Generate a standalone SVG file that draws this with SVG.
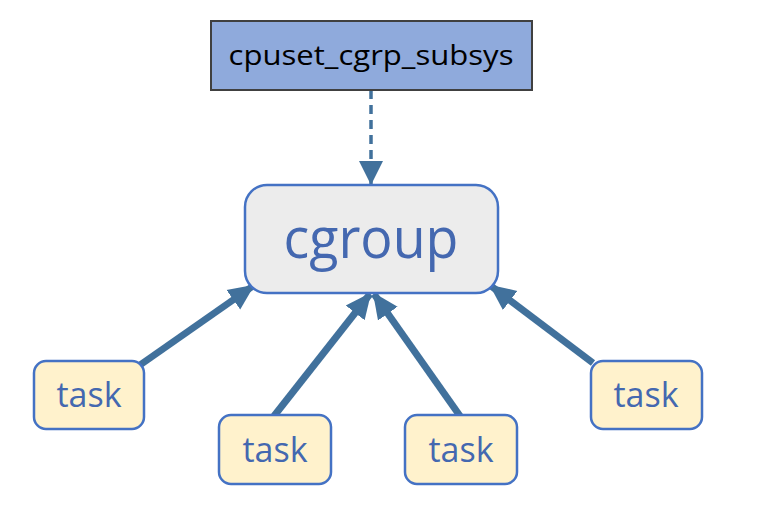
<svg xmlns="http://www.w3.org/2000/svg" width="760" height="512" viewBox="0 0 760 512">
<defs>
<style>
.task rect{fill:#fff2cc;stroke:#4472c4;stroke-width:2.5}
.task text{font-family:"Open Sans","Noto Sans",sans-serif;font-size:34px;fill:#4468b0;text-anchor:middle}
.conn{stroke:#41719c;stroke-width:7;fill:none}
</style>
<marker id="ah" markerUnits="userSpaceOnUse" markerWidth="26" markerHeight="26" viewBox="0 0 26 26" refX="24" refY="13" orient="auto">
<path d="M0,1 L26,13 L0,25 Z" fill="#41719c"/>
</marker>
<marker id="ahs" markerUnits="userSpaceOnUse" markerWidth="24" markerHeight="24" viewBox="0 0 24 24" refX="24" refY="12" orient="auto">
<path d="M0,0 L24,12 L0,24 Z" fill="#41719c"/>
</marker>
</defs>
<rect width="760" height="512" fill="#ffffff"/>
<g id="connectors">
<line x1="371" y1="90" x2="371" y2="185" stroke="#41719c" stroke-width="3.5" stroke-dasharray="9,6" marker-end="url(#ahs)"/>
<line class="conn" x1="140" y1="365" x2="253" y2="286" marker-end="url(#ah)"/>
<line class="conn" x1="274" y1="416" x2="370" y2="294" marker-end="url(#ah)"/>
<line class="conn" x1="460" y1="416" x2="374" y2="294" marker-end="url(#ah)"/>
<line class="conn" x1="593" y1="363" x2="491" y2="286" marker-end="url(#ah)"/>
</g>
<g id="subsys">
<rect x="211" y="21" width="321" height="69" fill="#8faadc" stroke="#404040" stroke-width="2"/>
<text x="371" y="65" font-family="'Open Sans','Noto Sans',sans-serif" font-size="28" fill="#000" text-anchor="middle" textLength="285" lengthAdjust="spacingAndGlyphs">cpuset_cgrp_subsys</text>
</g>
<g id="cgroup">
<rect x="245" y="185" width="253" height="108" rx="22" fill="#ececec" stroke="#4472c4" stroke-width="2.5"/>
<text x="371" y="258" font-family="'Open Sans','Noto Sans',sans-serif" font-size="56" fill="#4468b0" text-anchor="middle" textLength="175" lengthAdjust="spacingAndGlyphs">cgroup</text>
</g>
<g id="task1" class="task">
<rect x="34" y="361" width="110" height="68" rx="12"/>
<text x="89" y="407">task</text>
</g>
<g id="task2" class="task">
<rect x="219" y="415" width="112" height="69" rx="12"/>
<text x="275" y="462">task</text>
</g>
<g id="task3" class="task">
<rect x="405" y="415" width="112" height="69" rx="12"/>
<text x="461" y="462">task</text>
</g>
<g id="task4" class="task">
<rect x="591" y="361" width="111" height="68" rx="12"/>
<text x="646" y="407">task</text>
</g>
</svg>
